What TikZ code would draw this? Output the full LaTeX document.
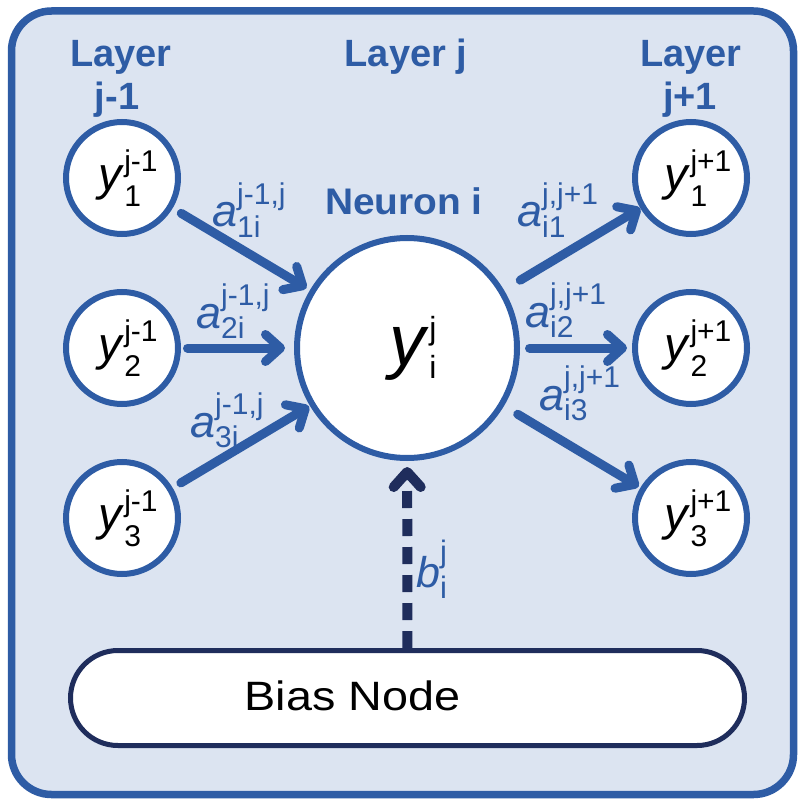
\documentclass[tikz,border=0pt]{standalone}
\usepackage{fontspec}
\setmainfont{Liberation Sans}
\usetikzlibrary{arrows.meta}

\definecolor{frameblue}{HTML}{2E5CA5}
\definecolor{panelblue}{HTML}{DCE4F1}
\definecolor{navy}{HTML}{1F2D5C}

% letter with a stacked superscript and subscript:
% #1 letter size, #2 letter, #3 script size, #4 raise of sup, #5 drop of sub, #6 sup, #7 sub
\newcommand{\stacklabel}[7]{%
  {\fontsize{#1}{#1}\selectfont\itshape #2\/}%
  {\fontsize{#3}{#3}\selectfont
   \sbox0{#6}\sbox2{#7}%
   \ifdim\wd0>\wd2 \dimen0=\wd0 \else\dimen0=\wd2 \fi
   \makebox[\dimen0][l]{\rlap{\raisebox{#4}{\usebox0}}\raisebox{-#5}{\usebox2}}}}

\begin{document}
\begin{tikzpicture}[x=1pt,y=-1pt,
  neuron/.style={circle, draw=frameblue, line width=6pt, fill=white,
    minimum size=112pt, inner sep=0pt},
  bigneuron/.style={neuron, minimum size=220pt},
  wire/.style={draw=frameblue, line width=9pt, line cap=round,
    -{Straight Barb[length=15pt,width=27pt,round]}},
  biaswire/.style={draw=navy, line width=10pt,
    dash pattern=on 17pt off 11pt,
    -{Straight Barb[length=15pt,width=27pt,round]}},
  header/.style={text=frameblue, anchor=base, inner sep=0pt,
    font=\fontsize{38}{38}\selectfont\bfseries},
  wlabel/.style={text=frameblue, anchor=base west, inner sep=0pt},
]
\useasboundingbox (0,0) rectangle (797,799);

% panel
\draw[frameblue, line width=7.5pt, fill=panelblue, rounded corners=40pt]
  (11.5,11) rectangle (793.5,794.5);

% layer headings
\node[header] (hl1) at (121,67) {Layer};
\node[header] (hl2) at (117,110) {j-1};
\node[header] (hm)  at (406,67) {Layer j};
\node[header] (hr1) at (691,67) {Layer};
\node[header] (hr2) at (690,110) {j+1};
\node[header, font=\fontsize{37}{37}\selectfont\bfseries] (nt) at (404,215)
  {\scalebox{1.05}[1]{Neuron i}};

% neurons
\node[neuron] (l1) at (122,178) {\kern12pt\stacklabel{47}{y}{30}{19pt}{16pt}{j-1}{1}};
\node[neuron] (l2) at (122,348) {\kern12pt\stacklabel{47}{y}{30}{19pt}{16pt}{j-1}{2}};
\node[neuron] (l3) at (122,518) {\kern12pt\stacklabel{47}{y}{30}{19pt}{16pt}{j-1}{3}};
\node[bigneuron] (n) at (407,348) {\kern12pt\stacklabel{72}{y}{32}{26pt}{13pt}{j}{i}};
\node[neuron] (r1) at (691,178) {\kern14pt\stacklabel{47}{y}{30}{19pt}{16pt}{j+1}{1}};
\node[neuron] (r2) at (691,348) {\kern14pt\stacklabel{47}{y}{30}{19pt}{16pt}{j+1}{2}};
\node[neuron] (r3) at (691,518) {\kern14pt\stacklabel{47}{y}{30}{19pt}{16pt}{j+1}{3}};

% bias node
\node[draw=navy, line width=5pt, fill=white, rounded corners=47.5pt,
  minimum width=674pt, minimum height=95pt, inner sep=0pt] (bias) at (407.5,698) {};
\node[anchor=base, inner sep=0pt, font=\fontsize{41}{41}\selectfont] (biastxt)
  at (352.5,710) {\scalebox{1.14}[1]{Bias Node}};

% weighted connections
\draw[wire, shorten <=10pt, shorten >=4pt] (l1) -- (n);
\draw[wire, shorten <=6.5pt, shorten >=9pt] (l2) -- (n);
\draw[wire, shorten <=9.5pt, shorten >=1pt] (l3) -- (n);
\draw[wire, shorten <=19pt, shorten >=0pt] (n) -- (r1);
\draw[wire, shorten <=9.5pt, shorten >=5pt] (n) -- (r2);
\draw[wire, shorten <=16pt, shorten >=2pt] (n) -- (r3);

% bias connection
\draw[biaswire, shorten >=6pt] (bias) -- (n);

% weights and bias labels
\node[wlabel] (w1) at (212,227) {\stacklabel{45}{a}{30}{22pt}{11pt}{j-1,j}{1i}};
\node[wlabel] (w2) at (196,328) {\stacklabel{45}{a}{30}{23pt}{10pt}{j-1,j}{2i}};
\node[wlabel] (w3) at (190,437) {\stacklabel{45}{a}{30}{23pt}{10pt}{j-1,j}{3i}};
\node[wlabel] (w4) at (517,227) {\stacklabel{45}{a}{30}{22pt}{11pt}{j,j+1}{i1}};
\node[wlabel] (w5) at (525,327) {\stacklabel{45}{a}{30}{23pt}{10pt}{j,j+1}{i2}};
\node[wlabel] (w6) at (539,410) {\stacklabel{45}{a}{30}{23pt}{10pt}{j,j+1}{i3}};
\node[wlabel] (bl) at (416,587) {\stacklabel{43}{b}{31}{25pt}{11pt}{j}{i}};
\end{tikzpicture}
\end{document}
